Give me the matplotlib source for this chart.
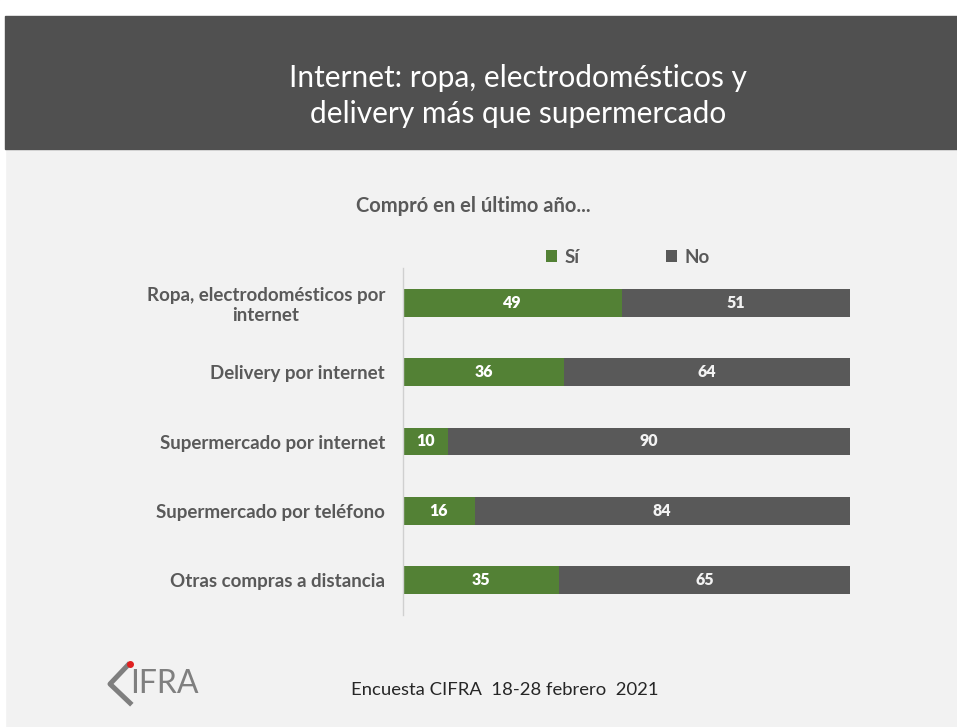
"""Internet purchases chart (CIFRA survey, Feb 2021)."""

import matplotlib

matplotlib.use("Agg")

import matplotlib.pyplot as plt
from matplotlib.lines import Line2D
from matplotlib.patches import Rectangle

CATEGORIES = [
    "Ropa, electrodomésticos por\ninternet",
    "Delivery por internet",
    "Supermercado por internet",
    "Supermercado por teléfono",
    "Otras compras a distancia",
]
SI = [49, 36, 10, 16, 35]
NO = [51, 64, 90, 84, 65]
SERIES = ["Sí", "No"]

GREEN = "#538135"
DARK = "#595959"
HEADER = "#505050"
BG = "#F2F2F2"
FONT = ["Lato", "DejaVu Sans"]

W, H = 957, 727


def fx(px):
    return px / W


def fy(py):
    return 1 - py / H


plt.rcParams["font.family"] = FONT

fig = plt.figure(figsize=(W / 100, H / 100), dpi=100, facecolor=BG)

# white margins and dark header band
fig.patches.append(Rectangle((0, fy(16)), 1, 1 - fy(16), transform=fig.transFigure, color="white", zorder=0))
fig.patches.append(Rectangle((0, 0), fx(5), 1, transform=fig.transFigure, color="white", zorder=0))
fig.patches.append(Rectangle((fx(5), fy(149)), 1, fy(16) - fy(149), transform=fig.transFigure, color=HEADER, zorder=0))

fig.text(fx(518), fy(96), "Internet: ropa, electrodomésticos y\ndelivery más que supermercado",
         ha="center", va="center", color="white", fontsize=21.5, linespacing=1.35)
fig.text(fx(473), fy(206), "Compró en el último año...", ha="center", va="center",
         color=DARK, fontsize=14.5, fontweight="bold")

ax = fig.add_axes([fx(403), fy(615), fx(850) - fx(403), fy(268) - fy(615)])
ax.set_facecolor("none")
y = list(range(len(CATEGORIES)))
b1 = ax.barh(y, SI, height=0.4, color=GREEN, label=SERIES[0])
b2 = ax.barh(y, NO, left=SI, height=0.4, color=DARK, label=SERIES[1])
for bars, color in ((b1, "white"), (b2, BG)):
    for rect in bars:
        ax.text(rect.get_x() + rect.get_width() / 2, rect.get_y() + rect.get_height() / 2,
                f"{rect.get_width():.0f}", ha="center", va="center",
                color=color, fontsize=11.5, fontweight="heavy")

ax.set_xlim(0, 100)
ax.set_ylim(4.5, -0.5)
ax.set_yticks(y)
ax.set_yticklabels(CATEGORIES, fontsize=13.5, fontweight="bold", color=DARK, ha="right")
for lbl in ax.get_yticklabels():
    lbl.set_multialignment("center")
ax.tick_params(axis="y", length=0, pad=13)
ax.set_xticks([])
for side in ("top", "right", "bottom"):
    ax.spines[side].set_visible(False)
ax.spines["left"].set_color("#D0D0D0")
ax.spines["left"].set_linewidth(1)

ax.legend(loc="center", bbox_to_anchor=(fx(628), fy(257)), bbox_transform=fig.transFigure,
          ncol=2, frameon=False, handlelength=0.6, handleheight=0.6, columnspacing=4.6,
          handletextpad=0.4, prop={"family": FONT, "weight": "bold", "size": 13.5},
          labelcolor=DARK)

# CIFRA logo, approximated with lines and text
fig.add_artist(Line2D([fx(128), fx(110), fx(130)], [fy(665), fy(684), fy(703)],
                      transform=fig.transFigure, color="#7F7F7F", lw=3.6))
fig.text(fx(130), fy(684), "IFRA", ha="left", va="center", color="#7F7F7F",
         fontsize=23, family=FONT)
fig.add_artist(Line2D([fx(130)], [fy(664)], transform=fig.transFigure, marker="o",
                      markersize=4, color="#E02020", lw=0))

fig.text(fx(505), fy(690), "Encuesta CIFRA  18-28 febrero  2021", ha="center", va="center",
         color="#262626", fontsize=13.3)

fig.savefig("out.png", dpi=100, facecolor=BG)
